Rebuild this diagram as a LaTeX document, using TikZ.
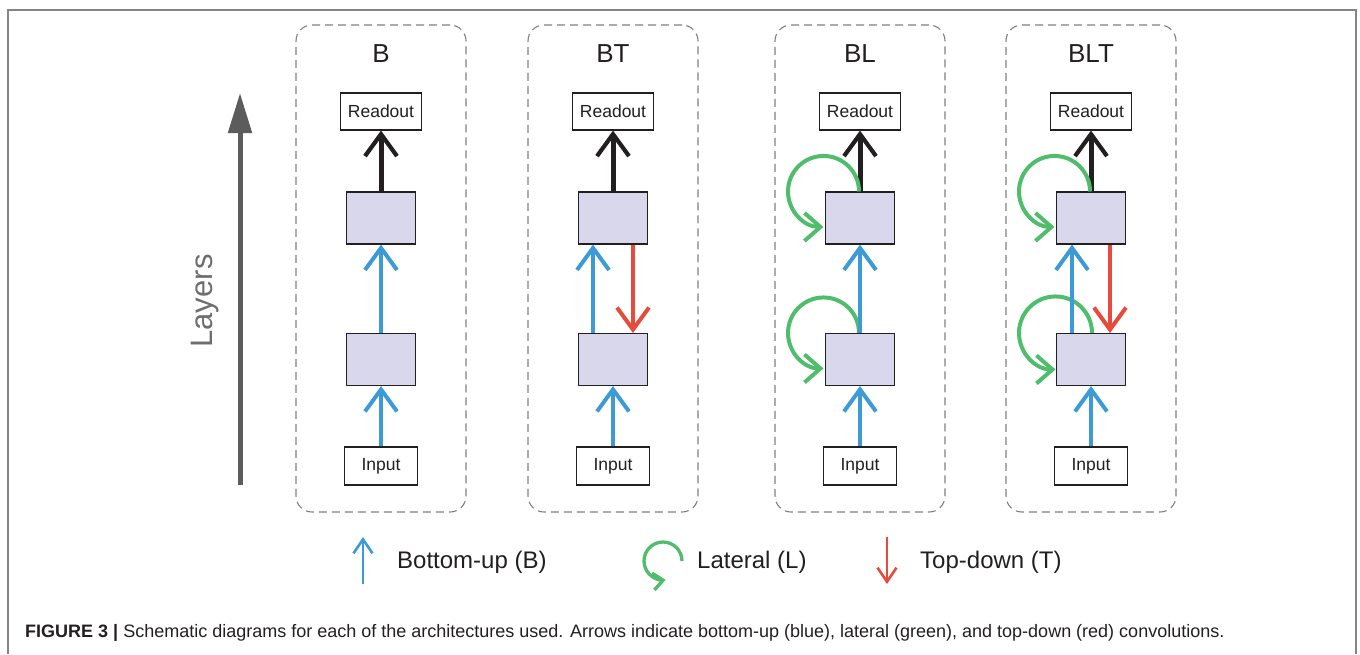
\documentclass[tikz,border=0pt]{standalone}
\usepackage{fontspec}
\setmainfont{Liberation Sans}
\usetikzlibrary{arrows.meta}
\definecolor{bublue}{HTML}{3C9AD7}
\definecolor{latgreen}{HTML}{4FBD6C}
\definecolor{tdred}{HTML}{E64B3B}
\definecolor{layerfill}{HTML}{D9D7EB}
\definecolor{boxline}{HTML}{231F20}
\definecolor{dashgray}{HTML}{7F7F7F}
\definecolor{framegray}{HTML}{858585}
\definecolor{arrowgray}{HTML}{5C5C5C}
\definecolor{laytext}{HTML}{6D6E70}
\tikzset{
  panel/.style={draw=dashgray, dash pattern=on 8pt off 5pt, rounded corners=16pt, line width=1.1pt, minimum width=170pt, minimum height=487pt, inner sep=0pt},
  ptitle/.style={font=\fontsize{26}{30}\selectfont, text=boxline, anchor=base, inner sep=0pt},
  lab/.style={draw=boxline, fill=white, line width=1.1pt, font=\fontsize{17.5}{20}\selectfont, text=boxline, inner sep=0pt, minimum width=81pt, minimum height=37pt},
  layerbox/.style={draw=boxline, fill=layerfill, line width=1.1pt, minimum width=69pt, minimum height=52pt, inner sep=0pt},
  outarrow/.style={draw=boxline, line width=5pt, -{Straight Barb[length=22pt,width=32pt,line width=4.2pt]}},
  bu/.style={draw=bublue, line width=4pt, -{Straight Barb[length=22pt,width=32pt]}},
  td/.style={draw=tdred, line width=4pt, -{Straight Barb[length=22pt,width=32pt]}},
  lat/.style={draw=latgreen, line width=4pt, -{Straight Barb[length=16pt,width=28pt]}},
  legarrowb/.style={draw=bublue, line width=2.6pt, -{Straight Barb[length=14pt,width=19pt]}},
  legarrowt/.style={draw=tdred, line width=2.6pt, -{Straight Barb[length=14pt,width=19pt]}},
  legarrowl/.style={draw=latgreen, line width=3.3pt, -{Straight Barb[length=10pt,width=17pt]}},
  legtext/.style={font=\fontsize{24}{28}\selectfont, text=boxline, anchor=west, inner sep=0pt},
  layarrow/.style={draw=arrowgray, line width=5pt, -{Triangle[length=40pt,width=23pt]}},
}
\begin{document}
\begin{tikzpicture}[x=1pt,y=1pt]
\useasboundingbox (0,0) rectangle (1360,-654);
% outer frame
\coordinate (f1) at (8,-654);
\coordinate (f2) at (8,-10);
\coordinate (f3) at (1356,-10);
\coordinate (f4) at (1356,-654);
\draw[framegray, line width=1.5pt] (f1) -- (f2) -- (f3) -- (f4);
% layers arrow
\coordinate (la0) at (240,-485);
\coordinate (la1) at (240,-93);
\draw[layarrow] (la0) -- (la1);
\node[rotate=90, font=\fontsize{31}{36}\selectfont, text=laytext] (lay) at (205,-301) {Layers};
% panels
\foreach \n/\cx/\t in {b/381/B, bt/613/BT, bl/860/BL, blt/1091/BLT}{
  \node[panel] (p\n) at (\cx,-268.5) {};
  \node[ptitle] (t\n) at (\cx,-62) {\t};
  \node[lab] (r\n) at (\cx,-111.5) {Readout};
  \node[layerbox] (u\n) at (\cx,-218) {};
  \node[layerbox] (l\n) at (\cx,-359.5) {};
  \node[lab, minimum width=73pt, minimum height=38pt] (i\n) at (\cx,-466) {Input};
  \draw[outarrow] (u\n.north) -- (r\n.south);
  \draw[bu] (i\n.north) -- (l\n.south);
}
% B
\draw[bu] (lb.north) -- (ub.south);
% BT
\draw[bu] ([xshift=-20pt]lbt.north) -- ([xshift=-20pt]ubt.south);
\draw[td] ([xshift=20pt]ubt.south) -- ([xshift=20pt]lbt.north);
% BL
\draw[lat] ([xshift=-1pt]ubl.north) arc[start angle=0, end angle=270, radius=35.5pt];
\draw[lat] ([xshift=-1pt]lbl.north) arc[start angle=0, end angle=270, radius=35.5pt];
\draw[bu] (lbl.north) -- (ubl.south);
% BLT
\draw[lat] ([xshift=-1pt]ublt.north) arc[start angle=0, end angle=270, radius=35.5pt];
\draw[lat] ([xshift=1pt]lblt.north) arc[start angle=0, end angle=270, radius=36.5pt];
\draw[bu] ([xshift=-19pt]lblt.north) -- ([xshift=-19pt]ublt.south);
\draw[td] ([xshift=19pt]ublt.south) -- ([xshift=19pt]lblt.north);
% legend
\coordinate (lb0) at (363,-584);
\coordinate (lb1) at (363,-537);
\draw[legarrowb] (lb0) -- (lb1);
\node[legtext] (lgb) at (397,-562) {Bottom-up (B)};
\coordinate (lg0) at (682,-561);
\draw[legarrowl] (lg0) arc[start angle=0, end angle=278, radius=19pt];
\node[legtext] (lgl) at (697,-562) {Lateral (L)};
\coordinate (lt0) at (887,-537);
\coordinate (lt1) at (887,-584);
\draw[legarrowt] (lt0) -- (lt1);
\node[legtext] (lgt) at (920,-562) {Top-down (T)};
% caption
\node[anchor=base west, inner sep=0pt, font=\fontsize{18}{21}\selectfont, text=boxline] (cap) at (25,-637) {\textbf{FIGURE 3 |} Schematic diagrams for each of the architectures used. Arrows indicate bottom-up (blue), lateral (green), and top-down (red) convolutions.};
\end{tikzpicture}
\end{document}
